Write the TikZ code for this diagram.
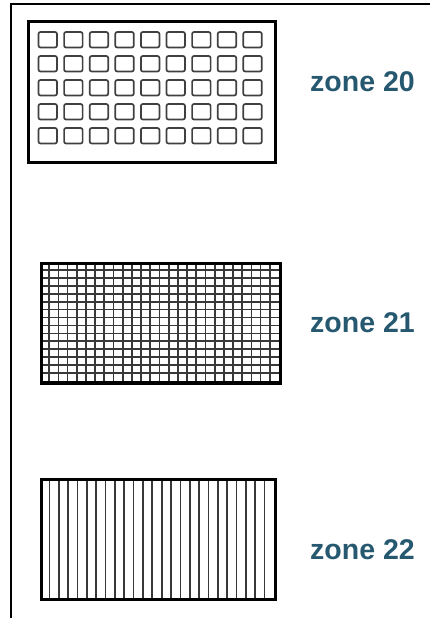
\documentclass[tikz,border=0pt]{standalone}
\usepackage{fontspec}
\setmainfont{Liberation Sans}
\definecolor{zoneblue}{RGB}{38,88,112}
\begin{document}
\begin{tikzpicture}[x=1pt,y=-1pt,
  frameline/.style={draw=black, line width=1.5pt},
  zonebox/.style={draw=black, line width=2.8pt, inner sep=0pt, anchor=north west},
  cell/.style={draw=black!75, line width=1.7pt, rounded corners=2pt},
  hatch/.style={draw=black!78, line width=1.7pt},
  lbl/.style={text=zoneblue, font=\bfseries\fontsize{28.5}{32}\selectfont, anchor=base west, inner sep=0pt}]
\useasboundingbox (0,0) rectangle (430,618);
% outer frame (top and left only)
\coordinate (fbl) at (11,618);
\coordinate (ftl) at (11,4);
\coordinate (ftr) at (430,4);
\draw[frameline] (fbl) -- (ftl) -- (ftr);
% zone 20
\foreach \i in {0,...,8}
  \foreach \j in {0,...,4}
    \draw[cell] ({38.5+25.6*\i},{32+24*\j}) rectangle ++(18.5,15.5);
\node[zonebox, minimum width=247pt, minimum height=141pt] (z20) at (27,20) {};
\node[lbl] (l20) at (310,91) {zone 20};
% zone 21
\foreach \i in {1,...,25}
  \draw[hatch] ({40+239/26*\i},262) -- ({40+239/26*\i},381);
\foreach \j in {1,...,14}
  \draw[hatch] (40,{262+119/15*\j}) -- (279,{262+119/15*\j});
\node[zonebox, minimum width=239pt, minimum height=119pt] (z21) at (40,262) {};
\draw[line width=1.5pt] (z21.south west) -- (z21.south east);
\node[lbl] (l21) at (310,332) {zone 21};
% zone 22
\foreach \i in {1,...,24}
  \draw[hatch] ({40+234/25*\i},478) -- ({40+234/25*\i},598);
\node[zonebox, minimum width=234pt, minimum height=120pt] (z22) at (40,478) {};
\node[lbl] (l22) at (310,559) {zone 22};
\end{tikzpicture}
\end{document}
